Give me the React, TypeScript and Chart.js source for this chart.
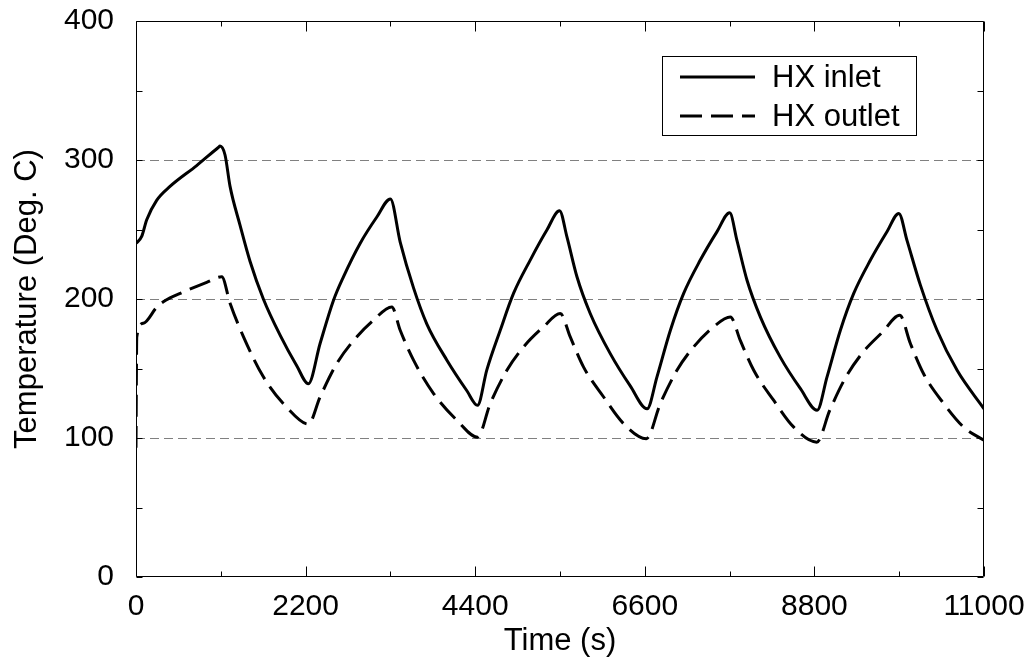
import React, { useEffect, useRef } from "react";
import { Chart, registerables } from "chart.js";

Chart.register(...registerables);

// ---- Data ----
const inletTime = [
  0, 74, 139, 268, 441, 787, 1067, 1090, 1155, 1220, 1350, 1480, 1652, 1869, 2085, 2236,
  2388, 2561, 2691, 2907, 3124, 3300, 3427, 3600, 3773, 4033, 4292, 4430,
  4551, 4725, 4897, 5114, 5330, 5494, 5590, 5720, 5892, 6152, 6411, 6630,
  6758, 6932, 7104, 7320, 7537, 7701, 7796, 7926, 8100, 8359, 8619, 8835,
  8964, 9137, 9310, 9527, 9743, 9895, 10002, 10175, 10391, 10651, 11000,
];
const inletTemp = [
  240, 245, 257, 271, 281, 296, 309, 310, 303.6, 281, 253, 227, 200, 174, 152, 139,
  168, 199, 216, 240, 259, 272, 241, 208, 182, 156, 134, 123.5,
  149, 177.5, 204, 228, 249.6, 263.5, 244.7, 216, 189.6, 160.7, 137.5, 121,
  144, 177.5, 204, 228, 248.5, 262, 242, 213.5, 187, 158, 135.5, 120,
  144, 177.5, 204, 228, 248.5, 261.6, 242, 210, 177.5, 148.7, 121,
];
const outletTime = [
  0, 10, 95, 268, 355, 615, 917, 1112, 1220, 1393, 1652, 1956, 2236,
  2388, 2604, 2820, 3080, 3318, 3427, 3600, 3860, 4163, 4430,
  4595, 4811, 5027, 5287, 5503, 5633, 5806, 6066, 6325, 6620,
  6801, 7017, 7233, 7493, 7710, 7840, 8013, 8273, 8532, 8830,
  9000, 9200, 9420, 9680, 9907, 10045, 10218, 10478, 10737, 11000,
];
const outletTemp = [
  93, 172.7, 182.5, 194, 198, 205, 212, 216, 197, 173, 144, 122, 110,
  129.5, 153.5, 170, 184.7, 194.3, 177.5, 156, 132, 112.7, 100.6,
  124.7, 148.7, 165.5, 180, 189.6, 172.7, 151, 129.5, 110.3, 99.5,
  124.7, 148.7, 165.5, 180, 187, 170, 148.7, 127, 107.8, 97,
  120, 143, 161, 176, 188.3, 168, 146, 124.7, 107.8, 98.3,
];
const seriesLabels = ["HX inlet", "HX outlet"];
const xTickLabels = [0, 2200, 4400, 6600, 8800, 11000];
const yTickLabels = [0, 100, 200, 300, 400];
const gridValues = [100, 200, 300];
const xMinorStep = 1100;
const yMinorStep = 50;

const FONT = "'Liberation Sans', Arial, Helvetica, sans-serif";
const OUTLET_DASH = [22, 9];

const toPoints = (xs: number[], ys: number[]) => xs.map((x, i) => ({ x, y: ys[i] }));

const zeroPadding = (s: any) => {
  s.paddingLeft = 0;
  s.paddingRight = 0;
  s.paddingTop = 0;
  s.paddingBottom = 0;
};

const framePlugin = {
  id: "frameAndLegend",
  beforeDatasetsDraw(chart: any) {
    const { ctx, chartArea, scales } = chart;
    const { left, right } = chartArea;
    ctx.save();
    ctx.strokeStyle = "#808080";
    ctx.lineWidth = 1;
    ctx.setLineDash([9, 5]);
    for (const v of gridValues) {
      const py = Math.round(scales.y.getPixelForValue(v)) + 0.5;
      ctx.beginPath();
      ctx.moveTo(left, py);
      ctx.lineTo(right, py);
      ctx.stroke();
    }
    ctx.restore();
  },
  afterDatasetsDraw(chart: any) {
    const { ctx, chartArea, scales } = chart;
    const { left, right, top, bottom } = chartArea;
    const x = scales.x;
    const y = scales.y;
    ctx.save();
    ctx.setLineDash([]);
    ctx.strokeStyle = "#000";
    ctx.lineWidth = 1;
    const L = Math.round(left) + 0.5;
    const R = Math.round(right) - 0.5;
    const T = Math.round(top) + 0.5;
    const B = Math.round(bottom) - 0.5;
    ctx.beginPath();
    ctx.rect(L, T, R - L, B - T);
    ctx.stroke();
    // x ticks (inward, top and bottom)
    ctx.beginPath();
    for (let v = 0; v <= 11000; v += xMinorStep) {
      const px = Math.round(x.getPixelForValue(v)) + 0.5;
      const len = xTickLabels.includes(v) ? 10 : 5;
      ctx.moveTo(px, B);
      ctx.lineTo(px, B - len);
      ctx.moveTo(px, T);
      ctx.lineTo(px, T + len);
    }
    // y ticks (inward, left and right)
    for (let v = 0; v <= 400; v += yMinorStep) {
      const py = Math.round(y.getPixelForValue(v)) + 0.5;
      ctx.moveTo(L, py);
      ctx.lineTo(L + 6, py);
      ctx.moveTo(R, py);
      ctx.lineTo(R - 6, py);
    }
    ctx.stroke();

    // legend box
    const bx = 662, by = 56, bw = 254, bh = 79;
    ctx.fillStyle = "#fff";
    ctx.fillRect(bx, by, bw, bh);
    ctx.strokeStyle = "#000";
    ctx.lineWidth = 1;
    ctx.strokeRect(bx + 0.5, by + 0.5, bw, bh);
    const rows = [77, 116];
    chart.data.datasets.forEach((ds: any, i: number) => {
      const ry = rows[i];
      ctx.beginPath();
      ctx.setLineDash(ds.borderDash || []);
      ctx.lineWidth = ds.borderWidth;
      ctx.strokeStyle = ds.borderColor;
      ctx.moveTo(680, ry);
      ctx.lineTo(755, ry);
      ctx.stroke();
      ctx.setLineDash([]);
      ctx.fillStyle = "#000";
      ctx.font = `31px ${FONT}`;
      ctx.textAlign = "left";
      ctx.textBaseline = "middle";
      ctx.fillText(ds.label, 772, ry + 1);
    });
    ctx.restore();
  },
};

export default function App() {
  const canvasRef = useRef<HTMLCanvasElement | null>(null);

  useEffect(() => {
    const canvas = canvasRef.current;
    if (!canvas) return;
    const chart = new Chart(canvas, {
      type: "line",
      data: {
        datasets: [
          {
            label: seriesLabels[0],
            data: toPoints(inletTime, inletTemp),
            borderColor: "#000",
            borderWidth: 3,
            pointRadius: 0,
            fill: false,
            cubicInterpolationMode: "monotone",
          },
          {
            label: seriesLabels[1],
            data: toPoints(outletTime, outletTemp),
            borderColor: "#000",
            borderWidth: 3,
            borderDash: OUTLET_DASH,
            pointRadius: 0,
            fill: false,
            cubicInterpolationMode: "monotone",
          },
        ],
      },
      options: {
        animation: false,
        responsive: false,
        maintainAspectRatio: false,
        devicePixelRatio: 1,
        layout: { padding: { top: 21, right: 49, left: 0, bottom: 0 } },
        plugins: {
          legend: { display: false },
          tooltip: { enabled: false },
        },
        scales: {
          x: {
            type: "linear",
            min: 0,
            max: 11000,
            afterBuildTicks: (s: any) => {
              s.ticks = xTickLabels.map((v) => ({ value: v }));
            },
            afterFit: (s: any) => {
              s.height = 91;
              zeroPadding(s);
            },
            ticks: {
              autoSkip: false,
              maxRotation: 0,
              padding: 12,
              color: "#000",
              font: { family: FONT, size: 30 },
              callback: (v: any) => String(v),
            },
            grid: { display: false, drawTicks: false, tickLength: 0 },
            border: { display: false },
            title: {
              display: true,
              text: "Time (s)",
              color: "#000",
              font: { family: FONT, size: 31 },
              padding: { top: 0, bottom: 8 },
            },
          },
          y: {
            type: "linear",
            min: 0,
            max: 400,
            afterBuildTicks: (s: any) => {
              s.ticks = yTickLabels.map((v) => ({ value: v }));
            },
            afterFit: (s: any) => {
              s.width = 136;
              zeroPadding(s);
            },
            ticks: {
              padding: 22,
              color: "#000",
              font: { family: FONT, size: 30 },
              callback: (v: any) => String(v),
            },
            grid: { display: false, drawTicks: false, tickLength: 0 },
            border: { display: false },
            title: {
              display: true,
              text: "Temperature (Deg. C)",
              color: "#000",
              font: { family: FONT, size: 31 },
              padding: { top: 9, bottom: 0 },
            },
          },
        },
      },
      plugins: [framePlugin],
    });
    return () => chart.destroy();
  }, []);

  return (
    <div style={{ position: "absolute", left: 0, top: 0, width: 1033, height: 668, background: "#fff" }}>
      <canvas ref={canvasRef} width={1033} height={668} style={{ display: "block" }} />
    </div>
  );
}
